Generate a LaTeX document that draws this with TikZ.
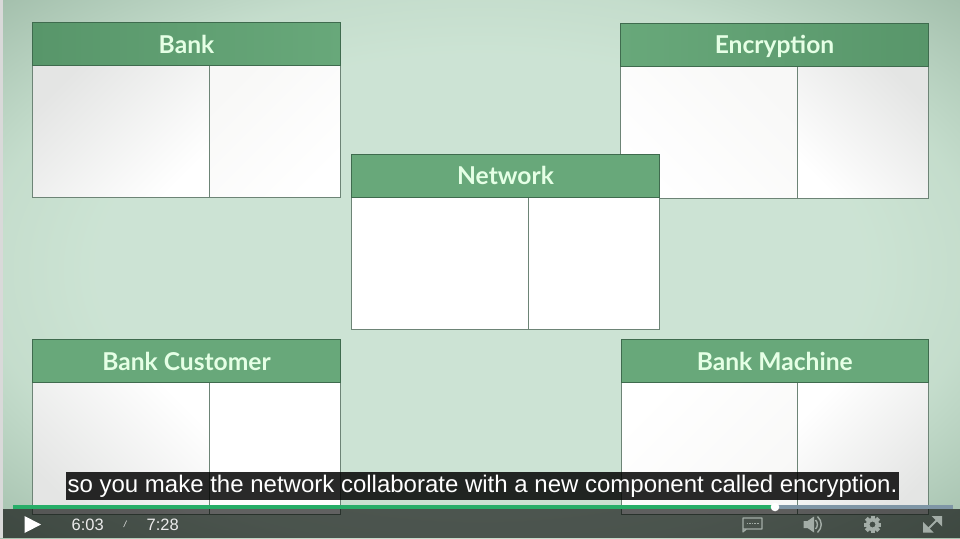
\documentclass[tikz,border=0pt]{standalone}
\usepackage{fontspec}
\setmainfont{Liberation Sans}
\newfontfamily\cardfont{Lato}
\definecolor{greenlight}{HTML}{68A87A}
\definecolor{greendark}{HTML}{58966A}
\definecolor{cardedge}{HTML}{3F6B4E}
\definecolor{celledge}{HTML}{6D8476}
\definecolor{greyA}{HTML}{E4E5E4}
\definecolor{greyB}{HTML}{F8F8F7}
\definecolor{iconc}{HTML}{A3ADA7}
\definecolor{progress}{HTML}{27AE68}
\definecolor{restbar}{HTML}{7F96A6}
\pgfdeclareradialshading{vignette}{\pgfpoint{0bp}{0bp}}{
  rgb(0bp)=(0.800,0.892,0.830);
  rgb(20bp)=(0.800,0.892,0.830);
  rgb(26bp)=(0.770,0.865,0.800);
  rgb(35.5bp)=(0.640,0.750,0.675);
  rgb(100bp)=(0.640,0.750,0.675)}
\tikzset{
  cardtitle/.style={draw=cardedge,line width=.8pt,inner sep=0pt,outer sep=0pt,text=white!90!green,
    text height=20pt,text depth=2pt,font=\cardfont\bfseries\fontsize{24.6}{28}\selectfont},
  cardcell/.style={draw=celledge,line width=.9pt},
  topleft/.style={shading=axis,left color=#1,right color=white,shading angle=45},
  topright/.style={shading=axis,left color=#1,right color=white,shading angle=-45},
  botleft/.style={shading=axis,left color=#1,right color=white,shading angle=135},
  botright/.style={shading=axis,left color=#1,right color=white,shading angle=-135},
  titleL/.style={left color=greendark,right color=greenlight},
  titleR/.style={left color=greenlight,right color=greendark},
  titleC/.style={fill=greenlight},
  subtitlebox/.style={fill=black,fill opacity=.84,text opacity=1,text=white,inner sep=0pt,outer sep=0pt,
    minimum width=833pt,minimum height=28pt,font=\fontsize{24}{28}\selectfont},
  timetext/.style={text=white!92!black,inner sep=0pt,font=\fontsize{16.5}{19}\selectfont},
  iconline/.style={draw=iconc,line width=1.4pt}
}
% #1 name, #2 left, #3 top, #4 divider x, #5 right, #6 title bottom, #7 bottom, #8 text, #9 title style
\newcommand{\drawcard}[9]{
  \draw[cardcell] (#2,#6) rectangle (#5,#7);
  \draw[cardcell] (#4,#6) -- (#4,#7);
  \node[cardtitle,#9,anchor=north west,minimum width=#5pt-#2pt,minimum height=#6pt-#3pt] (#1) at (#2,#3) {#8};
}
\begin{document}
\begin{tikzpicture}[x=1pt,y=-1pt]
\useasboundingbox (0,0) rectangle (960,538);
\path[shading=vignette] (0,0) rectangle (960,538);
\fill[white!70!gray] (0,0) rectangle (2.5,538);

% bank
\path[topleft=greyA] (32.5,65.5) rectangle (209,197.5);
\path[topleft=greyB] (209,65.5) rectangle (340.5,197.5);
\drawcard{bank}{32.5}{22.5}{209}{340.5}{65.5}{197.5}{Bank}{titleL}
% encryption
\path[topright=greyB] (620.5,66) rectangle (797,198);
\path[topright=greyA] (797,66) rectangle (928.5,198);
\drawcard{encryption}{620.5}{23}{797}{928.5}{66}{198}{Encryption}{titleR}
% bank customer
\path[botleft=greyA] (32.5,382.5) rectangle (209,514.5);
\fill[white] (209,382.5) rectangle (340.5,514.5);
\drawcard{customer}{32.5}{339.5}{209}{340.5}{382.5}{514.5}{Bank Customer}{titleC}
% bank machine
\path[botright=greyB] (621,382.5) rectangle (797.5,514.5);
\path[botright=greyA] (797.5,382.5) rectangle (928.5,514.5);
\drawcard{machine}{621}{339.5}{797.5}{928.5}{382.5}{514.5}{Bank Machine}{titleC}
% network
\fill[white] (351.5,197.5) rectangle (659.5,329.5);
\drawcard{network}{351.5}{154}{528}{659.5}{197.5}{329.5}{Network}{titleC}

% player bar
\fill[black,opacity=.62] (2.5,509) rectangle (960,538);
\fill[restbar] (775,505) rectangle (953,509);
\fill[progress] (13,505) rectangle (775,509);
\fill[white] (775,507) circle (4.3);

\node[subtitlebox] (caption) at (482.5,486) {\raisebox{-3pt}{so you make the network collaborate with a new component called encryption.}};

% play and time
\fill[white] (24.5,516) -- (41,524.5) -- (24.5,533) -- cycle;
\node[timetext,anchor=west] (elapsed) at (71.5,524.5) {6:03};
\node[timetext,anchor=center,font=\fontsize{9}{10}\itshape] (slash) at (125,524.5) {/};
\node[timetext,anchor=west] (total) at (146.5,524.5) {7:28};

% captions icon
\draw[iconline,line width=1.1pt,line join=round] (743,518) rectangle (762,529) (743,529) -- (743,532) -- (746.5,529);
\draw[iconc,line width=1.2pt,dash pattern=on 1.6pt off 1pt] (746.5,523.5) -- (759,523.5);
% speaker icon
\fill[iconc] (803.5,521) -- (807.5,521) -- (814,516.5) -- (814,532.5) -- (807.5,528) -- (803.5,528) -- cycle;
\draw[iconline] (815.5,520) .. controls (818,522.5) and (818,526.5) .. (815.5,529);
\draw[iconline] (817.5,516.5) .. controls (822.5,521.5) and (822.5,527.5) .. (817.5,532.5);
% gear icon
\fill[iconc,even odd rule] (872.5,524.5) circle (6.6) (872.5,524.5) circle (3);
\foreach \a in {0,45,...,315}{
  \fill[iconc,rotate around={\a:(872.5,524.5)}] (870.5,515.7) rectangle (874.5,519);
}
% fullscreen icon
\draw[iconline,line width=2pt] (926,531) -- (939,518);
\fill[iconc] (931.5,516) -- (942,516) -- (942,526.5) -- cycle;
\fill[iconc] (923,522) -- (923,532.5) -- (933.5,532.5) -- cycle;
\end{tikzpicture}
\end{document}
